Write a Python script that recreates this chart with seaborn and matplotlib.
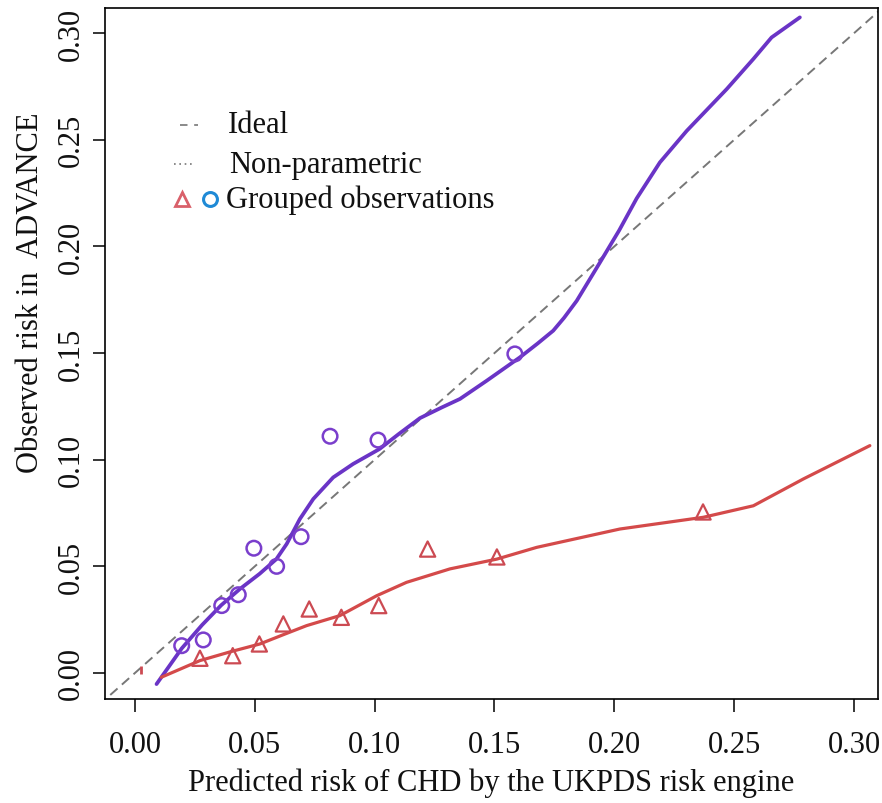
import matplotlib
matplotlib.use("Agg")
import matplotlib.pyplot as plt
import seaborn as sns
import pandas as pd

# Smoothed (non-parametric) calibration curves
purple_x = [0.009, 0.0195, 0.028, 0.036, 0.0438, 0.052, 0.059, 0.0633, 0.0688, 0.0744,
            0.0827, 0.091, 0.102, 0.110, 0.1189, 0.128, 0.1356, 0.1467, 0.1606, 0.168,
            0.1745, 0.179, 0.1843, 0.194, 0.202, 0.2093, 0.219, 0.2302, 0.2469, 0.258,
            0.2656, 0.2774]
purple_y = [-0.0052, 0.0115, 0.0225, 0.0318, 0.0394, 0.0465, 0.0534, 0.0605, 0.0722, 0.0816,
            0.0917, 0.098, 0.105, 0.112, 0.1195, 0.1245, 0.1285, 0.137, 0.148, 0.1545,
            0.1605, 0.1665, 0.1745, 0.1925, 0.2075, 0.2225, 0.2394, 0.2542, 0.2738, 0.2879,
            0.298, 0.3074]

red_x = [0.011, 0.0271, 0.040, 0.0521, 0.062, 0.0716, 0.0855, 0.1008, 0.1133, 0.1314,
         0.151, 0.1676, 0.2023, 0.2371, 0.258, 0.2789, 0.3066]
red_y = [-0.002, 0.0058, 0.010, 0.0136, 0.018, 0.0222, 0.0269, 0.0362, 0.0425, 0.0488,
         0.0534, 0.0589, 0.0675, 0.073, 0.0784, 0.091, 0.1066]

# Grouped observations
circle_x = [0.0195, 0.0285, 0.0362, 0.0431, 0.0496, 0.0591, 0.0693, 0.0814, 0.1014, 0.1585]
circle_y = [0.0128, 0.0155, 0.0316, 0.0367, 0.0585, 0.0500, 0.0639, 0.1110, 0.1092, 0.1496]

tri_x = [0.0271, 0.0408, 0.0519, 0.0619, 0.0727, 0.0861, 0.1017, 0.1221, 0.151, 0.237]
tri_y = [0.0069, 0.0081, 0.0136, 0.0230, 0.0300, 0.0261, 0.0316, 0.0581, 0.0544, 0.0755]

stray_x = [0.0025]
stray_y = [0.0012]

ideal = [-0.02, 0.32]

ticks = [0.00, 0.05, 0.10, 0.15, 0.20, 0.25, 0.30]
tick_labels = ["0.00", "0.05", "0.10", "0.15", "0.20", "0.25", "0.30"]

PURPLE = "#6a34c6"
PURPLE_PT = "#7a3ecc"
RED = "#d44a4a"
RED_PT = "#cc4a52"
BLUE = "#1f8ad6"
GREY = "#777777"
INK = "#111111"
FS = 22

sns.set_style("ticks")
plt.rcParams["font.family"] = ["Liberation Serif", "DejaVu Serif"]

fig = plt.figure(figsize=(8.82, 8.04), dpi=100)
ax = fig.add_axes([105 / 882, 1 - 700 / 804, 773 / 882, 691 / 804])

# Ideal line
sns.lineplot(x=ideal, y=ideal, ax=ax, color=GREY, lw=1.4, linestyle=(0, (5, 3)),
             estimator=None, sort=False)

sns.lineplot(data=pd.DataFrame({"x": purple_x, "y": purple_y}), x="x", y="y", ax=ax,
             color=PURPLE, lw=2.7, estimator=None, sort=False)
sns.lineplot(data=pd.DataFrame({"x": red_x, "y": red_y}), x="x", y="y", ax=ax,
             color=RED, lw=2.3, estimator=None, sort=False)

sns.scatterplot(x=circle_x, y=circle_y, ax=ax, marker="o", s=110,
                facecolor="none", edgecolor=PURPLE_PT, linewidth=1.8, zorder=5)
sns.scatterplot(x=tri_x, y=tri_y, ax=ax, marker="^", s=120,
                facecolor="none", edgecolor=RED_PT, linewidth=1.6, zorder=5)
sns.scatterplot(x=stray_x, y=stray_y, ax=ax, marker="|", s=40,
                color=RED_PT, linewidth=2, zorder=5)

ax.set_xlim(-0.0125, 0.310)
ax.set_ylim(-0.0122, 0.3118)
ax.set_xticks(ticks)
ax.set_xticklabels(tick_labels)
ax.set_yticks(ticks)
ax.set_yticklabels(tick_labels, rotation=90, va="center")

for sp in ax.spines.values():
    sp.set_visible(True)
    sp.set_linewidth(1.2)
    sp.set_color("black")

ax.tick_params(axis="both", direction="out", length=9, width=1.1, color="black",
               labelsize=FS, labelcolor=INK)
ax.tick_params(axis="x", pad=13)
ax.tick_params(axis="y", pad=5)

ax.set_xlabel("Predicted risk of CHD by the UKPDS risk engine", fontsize=FS, color=INK)
ax.set_ylabel("Observed risk in  ADVANCE", fontsize=FS, color=INK)
ax.xaxis.set_label_coords(0.5, -0.099)
ax.yaxis.set_label_coords(-0.077, 0.59)

# Legend drawn in axes coordinates
tr = ax.transAxes
ax.plot([0.097, 0.120], [0.8307, 0.8307], transform=tr, color=GREY, lw=1.2,
        linestyle=(0, (4.5, 4)))
ax.plot([0.089, 0.115], [0.7742, 0.7742], transform=tr, color=GREY, lw=1.2,
        linestyle=(0, (1, 2.2)))
ax.plot([0.0996], [0.7236], transform=tr, marker="^", ms=10, mfc="none",
        mec="#d9606a", mew=2)
ax.plot([0.1358], [0.7236], transform=tr, marker="o", ms=10, mfc="none",
        mec=BLUE, mew=2.2)
ax.text(0.159, 0.8307, "Ideal", transform=tr, fontsize=FS, va="center",
        ha="left", color=INK)
ax.text(0.160, 0.7742, "Non-parametric", transform=tr, fontsize=FS, va="center",
        ha="left", color=INK)
ax.text(0.1565, 0.7236, "Grouped observations", transform=tr, fontsize=FS,
        va="center", ha="left", color=INK)

fig.savefig("out.png", dpi=100, facecolor="white")
